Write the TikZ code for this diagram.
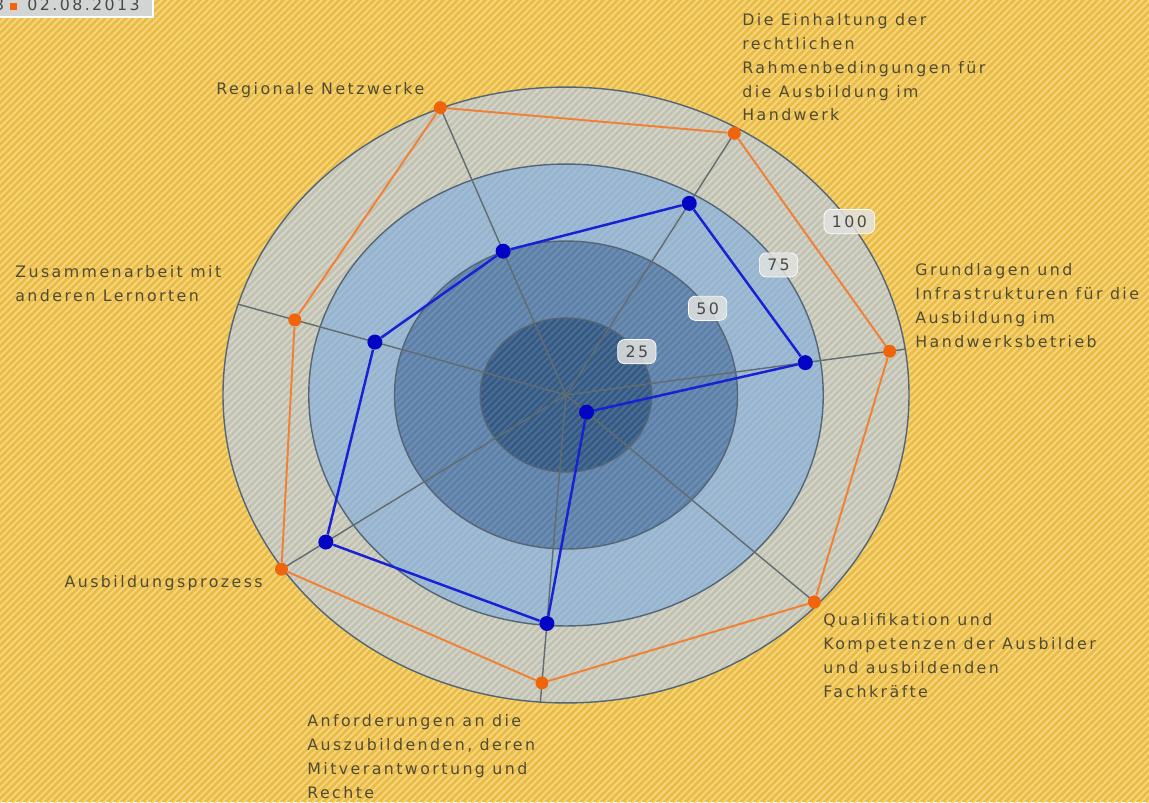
\documentclass[tikz,border=0pt]{standalone}
\usepackage{fontspec}
\newfontfamily\chartfont[LetterSpace=15.4]{DejaVu Sans}
\usepackage{xcolor}
\definecolor{colorBack}{RGB}{233,187,72}
\definecolor{colorStripe}{RGB}{247,214,122}
\definecolor{colorRingA}{RGB}{194,194,178}
\definecolor{colorRingB}{RGB}{150,180,207}
\definecolor{colorRingC}{RGB}{92,128,168}
\definecolor{colorRingD}{RGB}{52,90,132}
\definecolor{colorRingLine}{RGB}{84,102,118}
\definecolor{colorSpoke}{RGB}{98,108,110}
\definecolor{colorOrange}{RGB}{240,128,52}
\definecolor{colorOrangeDot}{RGB}{240,100,12}
\definecolor{colorBlue}{RGB}{24,34,212}
\definecolor{colorBlueDot}{RGB}{4,4,196}
\definecolor{colorText}{RGB}{80,75,52}
\definecolor{colorScale}{RGB}{72,72,72}
\definecolor{colorScaleBox}{RGB}{226,227,224}
\definecolor{colorLegend}{RGB}{210,213,212}
\usepackage{tikz}
\usetikzlibrary{patterns.meta, positioning}
\tikzset{
  axislabel/.style={font=\chartfont\fontsize{9}{13.6}\selectfont, text=colorText, align=left, inner sep=0pt},
  scalelabel/.style={font=\chartfont\fontsize{9}{10}\selectfont, text=colorScale, fill=colorScaleBox, fill opacity=0.85, text opacity=1, draw=white, rounded corners=4pt, inner xsep=4.5pt, inner ysep=3.5pt},
  odot/.style={circle, fill=colorOrangeDot, inner sep=0pt, minimum size=0.26cm},
  bdot/.style={circle, fill=colorBlueDot, inner sep=0pt, minimum size=0.3cm},
  spoke/.style={draw=colorSpoke, line width=0.8pt},
  ringline/.style={draw=colorRingLine, line width=0.8pt},
  hatch/.style={pattern={Lines[angle=45, distance=2.8pt, line width=1.1pt]}}
}

\begin{document}
\begin{tikzpicture}[x=0.02cm, y=0.02cm, orangeline/.style={draw=colorOrange, line width=1.1pt}, blueline/.style={draw=colorBlue, line width=1.4pt}]
\useasboundingbox (0,0) rectangle (1149,-802);
\fill[colorBack] (0,0) rectangle (1149,-802);
\fill[hatch, pattern color=colorStripe] (0,0) rectangle (1149,-802);

% legend
\draw[fill=colorLegend, draw=white, line width=1pt] (-60,10) rectangle (153,-17);
\fill[colorOrangeDot] (9.5,-3) rectangle (16.5,-10);
\node[axislabel, text=colorScale, anchor=base west] (date) at (27,-10.5) {02.08.2013};
\node[axislabel, text=colorScale, anchor=base east] (prev) at (4.5,-10.5) {3};

\coordinate (c) at (566,-395);
\begin{scope}[shift={(c)}, y=0.01796cm]
% rings
\fill[colorRingA] (c) circle[radius=343];
\fill[hatch, pattern color=white, opacity=0.3, even odd rule] (c) circle[radius=343] circle[radius=257.25];
\fill[colorRingB] (c) circle[radius=257.25];
\fill[colorRingC] (c) circle[radius=171.5];
\fill[colorRingD] (c) circle[radius=85.75];
\fill[hatch, pattern color=white, opacity=0.12] (c) circle[radius=257.25];
\draw[ringline] (c) circle[radius=343];
\draw[ringline] (c) circle[radius=257.25];
\draw[ringline] (c) circle[radius=171.5];
\draw[ringline] (c) circle[radius=85.75];

% axes
\coordinate (a1) at (111.43:343);
\coordinate (a2) at (60:343);
\coordinate (a3) at (8.57:343);
\coordinate (a4) at (-42.86:343);
\coordinate (a5) at (-94.29:343);
\coordinate (a6) at (-145.71:343);
\coordinate (a7) at (162.86:343);
\draw[spoke] (c) -- (a1);
\draw[spoke] (c) -- (a2);
\draw[spoke] (c) -- (a3);
\draw[spoke] (c) -- (a4);
\draw[spoke] (c) -- (a5);
\draw[spoke] (c) -- (a6);
\draw[spoke] (c) -- (a7);

% scale
\node[scalelabel] (s25) at (34.29:85.75) {25};
\node[scalelabel] (s50) at (34.29:171.5) {50};
\node[scalelabel] (s75) at (34.29:257.25) {75};
\node[scalelabel] (s100) at (34.29:343) {100};

% 02.08.2013
\node[odot] (o1) at (111.43:343.9) {};
\node[odot] (o2) at (60:336.6) {};
\node[odot] (o3) at (8.57:327.3) {};
\node[odot] (o4) at (-42.86:338.8) {};
\node[odot] (o5) at (-94.29:321.6) {};
\node[odot] (o6) at (-145.71:344.4) {};
\node[odot] (o7) at (162.86:283.8) {};
\draw[orangeline] (o1) -- (o2) -- (o3) -- (o4) -- (o5) -- (o6) -- (o7) -- (o1);

% second series
\node[bdot] (b1) at (111.43:172.1) {};
\node[bdot] (b2) at (60:246.5) {};
\node[bdot] (b3) at (8.57:242) {};
\node[bdot] (b4) at (-42.86:28.1) {};
\node[bdot] (b5) at (-94.29:255.2) {};
\node[bdot] (b6) at (-145.71:290.7) {};
\node[bdot] (b7) at (162.86:200) {};
\draw[blueline] (b1) -- (b2) -- (b3) -- (b4) -- (b5) -- (b6) -- (b7) -- (b1);
\end{scope}

% axis labels
\node[axislabel, anchor=base west] (reg) at (216,-94) {Regionale Netzwerke};
\node[axislabel, anchor=north west] (ein) at (742,-13) {Die Einhaltung der\\rechtlichen\\Rahmenbedingungen für\\die Ausbildung im\\Handwerk};
\node[axislabel, anchor=north west] (gru) at (915,-263) {Grundlagen und\\Infrastrukturen für die\\Ausbildung im\\Handwerksbetrieb};
\node[axislabel, anchor=north west] (qua) at (823,-613) {Qualifikation und\\Kompetenzen der Ausbilder\\und ausbildenden\\Fachkräfte};
\node[axislabel, anchor=north west] (anf) at (307,-714) {Anforderungen an die\\Auszubildenden, deren\\Mitverantwortung und\\Rechte};
\node[axislabel, anchor=base east] (aus) at (263,-587) {Ausbildungsprozess};
\node[axislabel, anchor=north west] (zus) at (15,-265) {Zusammenarbeit mit\\anderen Lernorten};
\end{tikzpicture}
\end{document}
